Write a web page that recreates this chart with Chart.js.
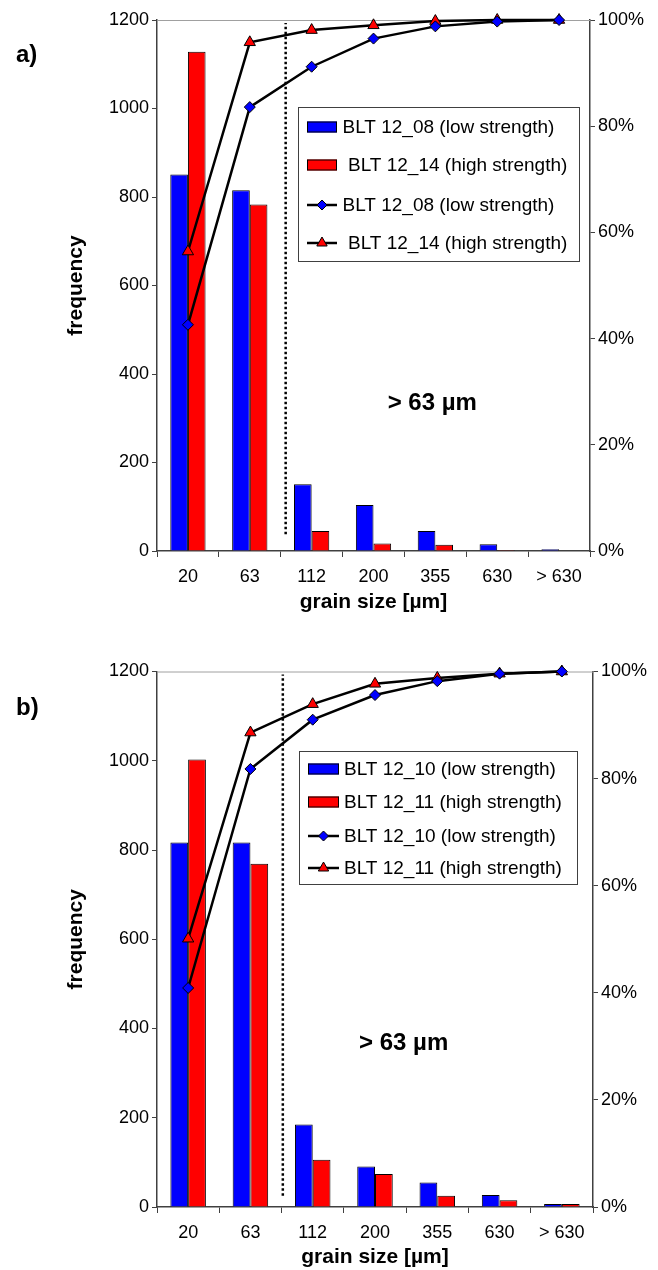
<!DOCTYPE html>
<html>
<head>
<meta charset="utf-8">
<script src="https://cdn.jsdelivr.net/npm/chart.js@4.4.1/dist/chart.umd.min.js"></script>
<style>
  html, body { margin: 0; padding: 0; background: #ffffff; }
  .panel { position: relative; width: 658px; }
  .panel canvas { display: block; }
  .panel canvas.overlay { position: absolute; left: 0; top: 0; }
</style>
</head>
<body>
<div class="panel">
  <canvas id="barsA" width="658" height="625"></canvas>
  <canvas id="linesA" class="overlay" width="658" height="625"></canvas>
</div>
<div class="panel">
  <canvas id="barsB" width="658" height="645"></canvas>
  <canvas id="linesB" class="overlay" width="658" height="645"></canvas>
</div>
<script>
// Grain-size classes (upper bound of each sieve class, µm)
const grainSizes = ['20', '63', '112', '200', '355', '630', '> 630'];

// Axis ticks
const frequencyTicks = [0, 200, 400, 600, 800, 1000, 1200];
const percentTicks = [0, 20, 40, 60, 80, 100];

// a) BLT 12_08 vs BLT 12_14 : frequency per class
const freqBLT1208 = [851, 815, 151, 104, 45, 15, 4];
const freqBLT1214 = [1128, 783, 45, 17, 14, 2, 0];
// a) cumulative share (%)
const cumBLT1208 = [42.6, 83.6, 91.2, 96.5, 98.8, 99.7, 100];
const cumBLT1214 = [56.4, 95.8, 98.1, 99.0, 99.8, 100, 100];

// b) BLT 12_10 vs BLT 12_11 : frequency per class
const freqBLT1210 = [817, 817, 185, 91, 55, 27, 7];
const freqBLT1211 = [1003, 769, 106, 74, 25, 15, 7];
// b) cumulative share (%)
const cumBLT1210 = [40.9, 81.8, 91.0, 95.6, 98.2, 99.6, 100];
const cumBLT1211 = [50.1, 88.6, 93.9, 97.7, 98.8, 99.6, 100];

// 63 µm boundary marker (position on the class axis, frequency span)
const boundaryA = [{ x: 1.58, y: 38 }, { x: 1.58, y: 1193 }];
const boundaryB = [{ x: 1.52, y: 25 }, { x: 1.52, y: 1193 }];

const FONT = "'Liberation Sans', Arial, Helvetica, sans-serif";
Chart.defaults.font.family = FONT;
Chart.defaults.color = '#000000';

const BLUE = '#0000ff';
const RED = '#ff0000';
const AXIS = '#404040';
const CLEAR = 'rgba(0,0,0,0)';

// legend entries per overlay canvas
const legendEntries = {};

// Framed legend drawn inside the plot area
const boxLegend = {
  id: 'boxLegend',
  afterDatasetsDraw(chart, args, o) {
    const entries = legendEntries[chart.canvas.id];
    if (!entries) return;
    const ctx = chart.ctx;
    ctx.save();
    ctx.fillStyle = '#ffffff';
    ctx.fillRect(o.left, o.top, o.right - o.left, o.bottom - o.top);
    ctx.strokeStyle = AXIS;
    ctx.lineWidth = 1;
    ctx.strokeRect(o.left + 0.5, o.top + 0.5, o.right - o.left, o.bottom - o.top);
    ctx.font = o.fontSize + 'px ' + FONT;
    ctx.textBaseline = 'middle';
    ctx.textAlign = 'left';
    entries.forEach((ds, i) => {
      const y = o.rows[i];
      const x0 = o.swatchLeft, x1 = o.swatchRight;
      if (ds.type === 'bar') {
        ctx.fillStyle = ds.backgroundColor;
        ctx.fillRect(x0, y - 5.5, x1 - x0, 11);
        ctx.strokeStyle = '#000';
        ctx.lineWidth = 1;
        ctx.strokeRect(x0 + 0.5, y - 5.5 + 0.5, x1 - x0 - 1, 10);
      } else {
        ctx.strokeStyle = ds.borderColor;
        ctx.lineWidth = ds.borderWidth;
        ctx.beginPath();
        ctx.moveTo(x0, y);
        ctx.lineTo(x1, y);
        ctx.stroke();
        ctx.fillStyle = ds.pointBackgroundColor;
        ctx.strokeStyle = ds.pointBorderColor;
        ctx.lineWidth = ds.pointBorderWidth;
        Chart.helpers.drawPoint(ctx, {
          pointStyle: ds.pointStyle,
          radius: ds.pointRadius - 0.5,
          rotation: 0,
          borderWidth: ds.pointBorderWidth
        }, (x0 + x1) / 2, y);
      }
      ctx.fillStyle = '#000';
      ctx.fillText(ds.label, o.textX[i], y + 1);
    });
    ctx.restore();
  }
};

// Plot frame top line
const plotFrame = {
  id: 'plotFrame',
  beforeDatasetsDraw(chart) {
    const { ctx, chartArea } = chart;
    ctx.save();
    ctx.strokeStyle = '#a0a0a0';
    ctx.lineWidth = 1;
    ctx.beginPath();
    ctx.moveTo(chartArea.left, chartArea.top + 0.5);
    ctx.lineTo(chartArea.right, chartArea.top + 0.5);
    ctx.stroke();
    ctx.restore();
  }
};

// Panel letter and class annotation
const notes = {
  id: 'notes',
  afterDraw(chart, args, o) {
    const ctx = chart.ctx;
    ctx.save();
    ctx.fillStyle = '#000';
    ctx.textBaseline = 'middle';
    ctx.font = 'bold ' + o.note.size + 'px ' + FONT;
    ctx.textAlign = 'center';
    const nx = chart.scales.xl.getPixelForValue(o.note.x);
    const ny = chart.scales.y.getPixelForValue(o.note.y);
    ctx.fillText(o.note.text, nx, ny);
    ctx.font = 'bold ' + o.panel.size + 'px ' + FONT;
    ctx.textAlign = 'left';
    ctx.fillText(o.panel.text, o.panel.x, o.panel.y);
    ctx.restore();
  }
};

// Shared axis layout; the overlay uses the same geometry with invisible axes
function buildScales(s, visible) {
  const ink = visible ? '#000' : CLEAR;
  const line = visible ? AXIS : CLEAR;
  return {
    x: {
      type: 'category',
      labels: grainSizes,
      offset: true,
      grid: { offset: true, drawOnChartArea: false, tickLength: 6, color: line, lineWidth: 1 },
      border: { color: line, width: 1.5 },
      ticks: { font: { size: 18 }, color: ink, padding: 9, maxRotation: 0, autoSkip: false },
      title: {
        display: true, text: 'grain size [µm]', color: ink,
        font: { size: 21, weight: 'bold' },
        padding: { top: 0, bottom: s.xTitlePad }
      },
      afterFit(scale) { scale.height = s.xHeight; }
    },
    xl: { type: 'linear', display: false, offset: false, min: -0.5, max: 6.5 },
    y: {
      type: 'linear',
      position: 'left',
      min: 0, max: 1200,
      afterBuildTicks(scale) { scale.ticks = frequencyTicks.map(v => ({ value: v })); },
      grid: { drawOnChartArea: false, tickLength: 5, color: line, lineWidth: 1 },
      border: { color: line, width: 1.5 },
      ticks: { font: { size: 18 }, color: ink, padding: 3, callback: v => String(v) },
      title: {
        display: true, text: 'frequency', color: ink,
        font: { size: 21, weight: 'bold' },
        padding: { top: 64, bottom: 0 }
      },
      afterFit(scale) { scale.width = 157; }
    },
    y2: {
      type: 'linear',
      position: 'right',
      min: 0, max: 100,
      afterBuildTicks(scale) { scale.ticks = percentTicks.map(v => ({ value: v })); },
      grid: { drawOnChartArea: false, tickLength: 5, color: line, lineWidth: 1 },
      border: { color: line, width: 1.5 },
      ticks: { font: { size: 18 }, color: ink, padding: 3, callback: v => v + '%' },
      afterFit(scale) { scale.width = s.rightWidth; }
    }
  };
}

function buildPanel(barsId, linesId, s) {
  const barSets = [
    {
      type: 'bar', label: s.names[0], data: s.freq[0],
      backgroundColor: BLUE, borderColor: '#000', borderWidth: 1,
      xAxisID: 'x', yAxisID: 'y',
      categoryPercentage: 0.57, barPercentage: 1.0
    },
    {
      type: 'bar', label: s.names[1], data: s.freq[1],
      backgroundColor: RED, borderColor: '#000', borderWidth: 1,
      xAxisID: 'x', yAxisID: 'y',
      categoryPercentage: 0.57, barPercentage: 1.0
    }
  ];
  const lineSets = [
    {
      type: 'line', label: s.names[0], data: s.cum[0],
      xAxisID: 'x', yAxisID: 'y2',
      borderColor: '#000', borderWidth: 2.5, tension: 0, fill: false,
      pointStyle: 'rectRot', pointRadius: 5.5, pointBorderWidth: 1,
      pointBackgroundColor: BLUE, pointBorderColor: '#000', clip: false
    },
    {
      type: 'line', label: s.names[1], data: s.cum[1],
      xAxisID: 'x', yAxisID: 'y2',
      borderColor: '#000', borderWidth: 2.5, tension: 0, fill: false,
      pointStyle: 'triangle', pointRadius: 6.5, pointBorderWidth: 1,
      pointBackgroundColor: RED, pointBorderColor: '#000', clip: false
    },
    {
      type: 'line', label: '63 µm', data: s.boundary,
      xAxisID: 'xl', yAxisID: 'y',
      borderColor: '#000', borderWidth: 2.5, borderDash: [2.5, 2.5],
      pointRadius: 0, fill: false
    }
  ];
  legendEntries[linesId] = [barSets[0], barSets[1], lineSets[0], lineSets[1]];

  const common = {
    responsive: false,
    animation: false,
    devicePixelRatio: 1,
    layout: { padding: { top: s.plotTop, left: 0, right: 0, bottom: 0 } }
  };

  new Chart(document.getElementById(barsId), {
    type: 'bar',
    data: { labels: grainSizes, datasets: barSets },
    options: Object.assign({}, common, {
      plugins: { legend: { display: false }, tooltip: { enabled: false } },
      scales: buildScales(s, true)
    }),
    plugins: [plotFrame]
  });

  // cumulative curves, 63 µm boundary, legend and labels on top of the bars
  new Chart(document.getElementById(linesId), {
    type: 'line',
    data: { labels: grainSizes, datasets: lineSets },
    options: Object.assign({}, common, {
      plugins: {
        legend: { display: false },
        tooltip: { enabled: false },
        boxLegend: s.legend,
        notes: { note: s.note, panel: s.panel }
      },
      scales: buildScales(s, false)
    }),
    plugins: [boxLegend, notes]
  });
}

buildPanel('barsA', 'linesA', {
  names: ['BLT 12_08 (low strength)', 'BLT 12_14 (high strength)'],
  freq: [freqBLT1208, freqBLT1214],
  cum: [cumBLT1208, cumBLT1214],
  boundary: boundaryA,
  plotTop: 20,
  xHeight: 74,
  xTitlePad: 10.5,
  rightWidth: 68,
  legend: {
    left: 298, top: 107, right: 579, bottom: 261,
    rows: [127, 165, 205, 243],
    swatchLeft: 307, swatchRight: 337,
    textX: [342.5, 348, 342.5, 348],
    fontSize: 19
  },
  note: { text: '> 63 µm', x: 3.95, y: 334, size: 24 },
  panel: { text: 'a)', x: 16, y: 55, size: 24 }
});

buildPanel('barsB', 'linesB', {
  names: ['BLT 12_10 (low strength)', 'BLT 12_11 (high strength)'],
  freq: [freqBLT1210, freqBLT1211],
  cum: [cumBLT1210, cumBLT1211],
  boundary: boundaryB,
  plotTop: 46.5,
  xHeight: 63,
  xTitlePad: 0.5,
  rightWidth: 65,
  legend: {
    left: 299, top: 126, right: 577, bottom: 259,
    rows: [144, 177, 211, 243],
    swatchLeft: 308, swatchRight: 339,
    textX: [344, 344, 344, 344],
    fontSize: 19
  },
  note: { text: '> 63 µm', x: 3.46, y: 367, size: 24 },
  panel: { text: 'b)', x: 16, y: 83, size: 24 }
});
</script>
</body>
</html>
